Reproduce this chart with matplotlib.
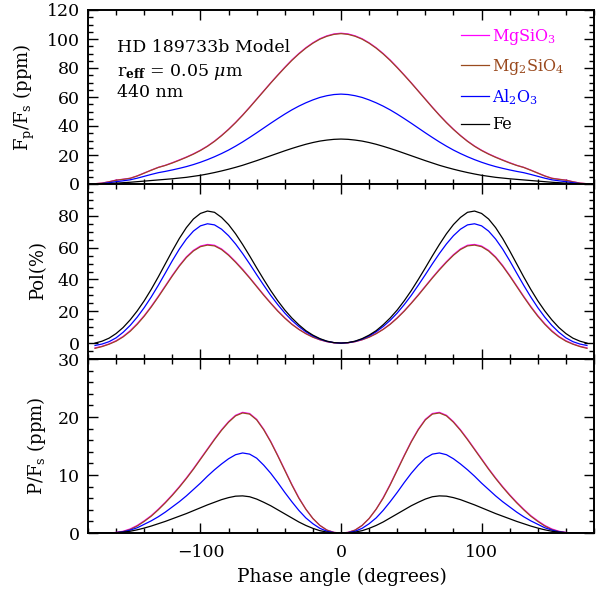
import numpy as np
import matplotlib
matplotlib.use("Agg")
import matplotlib.pyplot as plt
from matplotlib.ticker import MultipleLocator, FixedLocator

plt.rcParams['font.family'] = ['DejaVu Serif']
plt.rcParams['mathtext.fontset'] = 'dejavuserif'

# half phase grid (degrees), mirrored to the negative side
phase_half = list(range(0, 180, 5))

# Panel 1: Fp/Fs (ppm)
flux_mgsio3 = [104, 103.5, 102.2, 100.2, 97.4, 94, 90, 85.5, 80.5, 75.2, 69.8, 64.2, 58.6, 53, 47.6, 42.5,
               37.8, 33.5, 29.6, 26.2, 23.3, 20.8, 18.6, 16.6, 14.7, 12.9, 11.5, 9.6, 7.6, 5.6, 4.0, 3.3,
               2.7, 1.6, 0.6, 0.2]
flux_mg2sio4 = [103.7, 103.2, 101.9, 99.9, 97.1, 93.7, 89.7, 85.2, 80.2, 75, 69.6, 64, 58.4, 52.8, 47.4, 42.3,
                37.6, 33.3, 29.4, 26, 23.1, 20.6, 18.4, 16.4, 14.5, 12.8, 11.4, 9.5, 7.5, 5.5, 3.9, 3.2,
                2.6, 1.5, 0.6, 0.2]
flux_al2o3 = [62, 61.7, 60.9, 59.7, 58, 56, 53.7, 51.1, 48.2, 45.1, 41.9, 38.6, 35.3, 32.1, 29, 26.1,
              23.4, 21, 18.8, 16.8, 15, 13.4, 12, 10.8, 9.7, 8.7, 7.8, 6.6, 5.3, 4, 2.9, 2.2,
              1.6, 0.9, 0.3, 0.1]
flux_fe = [31, 30.8, 30.3, 29.6, 28.6, 27.4, 26, 24.5, 22.9, 21.2, 19.5, 17.8, 16.1, 14.5, 12.9, 11.5,
           10.2, 9, 7.9, 6.9, 6, 5.3, 4.6, 4.1, 3.6, 3.2, 2.8, 2.4, 2, 1.6, 1.2, 0.9,
           0.6, 0.3, 0.1, 0.05]

# Panel 2: Polarization (%)
pol_mgsio3 = [0, 0.2, 0.9, 2.1, 3.8, 6, 8.7, 12, 15.9, 20.3, 25.2, 30.4, 35.8, 41.2, 46.4, 51.2,
              55.6, 59.2, 61.5, 62, 61, 58.3, 54.2, 48.8, 42.6, 36, 29.4, 23.1, 17.3, 12.2, 7.8, 4.2,
              1.5, -0.5, -2, -3]
pol_mg2sio4 = [0, 0.2, 0.9, 2.1, 3.7, 5.9, 8.6, 11.8, 15.7, 20.1, 25, 30.1, 35.5, 40.9, 46, 50.8,
               55.2, 58.8, 61.1, 61.6, 60.6, 57.9, 53.8, 48.4, 42.2, 35.6, 29, 22.7, 16.9, 11.8, 7.4, 3.9,
               1.2, -0.7, -2.2, -3.3]
pol_al2o3 = [0, 0.3, 1.1, 2.5, 4.5, 7.1, 10.4, 14.3, 18.9, 24.2, 30, 36.4, 43, 49.8, 56.3, 62.3,
             67.5, 71.6, 74.3, 75, 73.7, 70.4, 65.4, 59.1, 51.8, 44, 36.3, 29, 22.3, 16.3, 11.1, 6.8,
             3.3, 0.9, -0.6, -1.5]
pol_fe = [0, 0.3, 1.2, 2.8, 5, 7.8, 11.5, 15.8, 20.8, 26.6, 33, 40, 47.3, 54.8, 62, 68.7,
          74.5, 79, 82.2, 83, 81.5, 78, 72.6, 65.8, 58, 49.8, 41.6, 33.8, 26.6, 20.2, 14.6, 9.8,
          6, 3.1, 1.2, 0]

# Panel 3: P/Fs (ppm)
pfs_mgsio3 = [0, 0.1, 0.5, 1.3, 2.5, 4.1, 6.1, 8.4, 10.9, 13.4, 15.8, 17.9, 19.6, 20.6, 20.8, 20.3,
              19.2, 17.8, 16.2, 14.5, 12.8, 11.1, 9.5, 8, 6.6, 5.3, 4.1, 3, 2.1, 1.3, 0.7, 0.3,
              0.1, 0, 0, 0]
pfs_mg2sio4 = [0, 0.1, 0.5, 1.3, 2.5, 4.1, 6, 8.3, 10.8, 13.3, 15.7, 17.8, 19.5, 20.5, 20.7, 20.2,
               19.1, 17.7, 16.1, 14.4, 12.7, 11, 9.4, 7.9, 6.5, 5.2, 4, 2.9, 2, 1.2, 0.6, 0.25,
               0.08, 0, 0, 0]
pfs_al2o3 = [0, 0.07, 0.3, 0.8, 1.6, 2.6, 3.9, 5.4, 7, 8.7, 10.3, 11.7, 12.9, 13.6, 13.8, 13.5,
             12.8, 11.9, 10.9, 9.8, 8.6, 7.5, 6.4, 5.4, 4.5, 3.6, 2.8, 2.1, 1.5, 0.9, 0.5, 0.2,
             0.07, 0, 0, 0]
pfs_fe = [0, 0.03, 0.15, 0.4, 0.8, 1.3, 1.9, 2.6, 3.3, 4, 4.7, 5.3, 5.85, 6.25, 6.4, 6.35,
          6.1, 5.75, 5.3, 4.85, 4.35, 3.85, 3.35, 2.9, 2.45, 2, 1.6, 1.2, 0.85, 0.55, 0.3, 0.15,
          0.05, 0, 0, 0]

labels = ['MgSiO$_3$', 'Mg$_2$SiO$_4$', 'Al$_2$O$_3$', 'Fe']
colors = ['#ff00ff', '#9a4a1e', '#0000ff', '#000000']


def mirror(vals):
    v = np.asarray(vals, dtype=float)
    return np.concatenate([v[::-1], v[1:]])


ph = np.asarray(phase_half, float)
phase = np.concatenate([-ph[::-1], ph[1:]])

fig = plt.figure(figsize=(6.01, 5.90), dpi=100)
L, R = 88 / 601, 594 / 601
tops = [10, 184, 359]
bots = [184, 359, 533]
axes = []
for t, b in zip(tops, bots):
    ax = fig.add_axes([L, 1 - b / 590, R - L, (b - t) / 590])
    axes.append(ax)

panels = [
    [flux_mgsio3, flux_mg2sio4, flux_al2o3, flux_fe],
    [pol_mgsio3, pol_mg2sio4, pol_al2o3, pol_fe],
    [pfs_mgsio3, pfs_mg2sio4, pfs_al2o3, pfs_fe],
]

for ax, series in zip(axes, panels):
    for vals, c, lab in zip(series, colors, labels):
        ax.plot(phase, mirror(vals), color=c, lw=0.9, label=lab)
    ax.set_xlim(-180, 180)
    ax.xaxis.set_major_locator(MultipleLocator(100))
    ax.xaxis.set_minor_locator(MultipleLocator(20))
    ax.tick_params(which='both', direction='in', top=True, right=True, width=1.0, labelsize=12.5)
    ax.tick_params(which='major', length=7.5)
    ax.tick_params(which='minor', length=3.5)
    ax.tick_params(axis='y', pad=6)
    ax.tick_params(axis='x', pad=8)
    for s in ax.spines.values():
        s.set_linewidth(1.4)

ax1, ax2, ax3 = axes
ax1.set_ylim(0, 120)
ax1.yaxis.set_major_locator(MultipleLocator(20))
ax1.yaxis.set_minor_locator(MultipleLocator(5))
ax2.set_ylim(-10, 100)
ax2.yaxis.set_major_locator(FixedLocator([0, 20, 40, 60, 80, 100]))
ax2.yaxis.set_minor_locator(MultipleLocator(5))
ax2.set_yticklabels(['0', '20', '40', '60', '80', ''])
ax3.set_ylim(0, 30)
ax3.yaxis.set_major_locator(MultipleLocator(10))
ax3.yaxis.set_minor_locator(MultipleLocator(2))

ax1.tick_params(labelbottom=False)
ax2.tick_params(labelbottom=False)

fig.text(342 / 601, 1 - 577 / 590, 'Phase angle (degrees)', ha='center', va='center', fontsize=13.5)
fig.text(24 / 601, 1 - 97 / 590, r'F$_\mathrm{p}$/F$_\mathrm{s}$ (ppm)', rotation=90, ha='center', va='center', fontsize=13)
fig.text(38 / 601, 1 - 270 / 590, 'Pol(%)', rotation=90, ha='center', va='center', fontsize=13)
fig.text(36 / 601, 1 - 446 / 590, r'P/F$_\mathrm{s}$ (ppm)', rotation=90, ha='center', va='center', fontsize=13)

ax1.text(0.057, 0.787, 'HD 189733b Model', transform=ax1.transAxes, fontsize=12.5, va='center')
ax1.text(0.057, 0.644, r'r$_{\mathbf{eff}}$ = 0.05 $\mu$m', transform=ax1.transAxes, fontsize=12.5, va='center')
ax1.text(0.057, 0.523, '440 nm', transform=ax1.transAxes, fontsize=12.5, va='center')

leg = ax1.legend(loc='upper left', bbox_to_anchor=((461 - 88) / 506, (184 - 27) / 174), frameon=False,
                 fontsize=11.5, handlelength=1.75, handletextpad=0.2, labelspacing=0.62,
                 labelcolor='linecolor', borderaxespad=0, borderpad=0)

fig.savefig('out.png', dpi=100)
